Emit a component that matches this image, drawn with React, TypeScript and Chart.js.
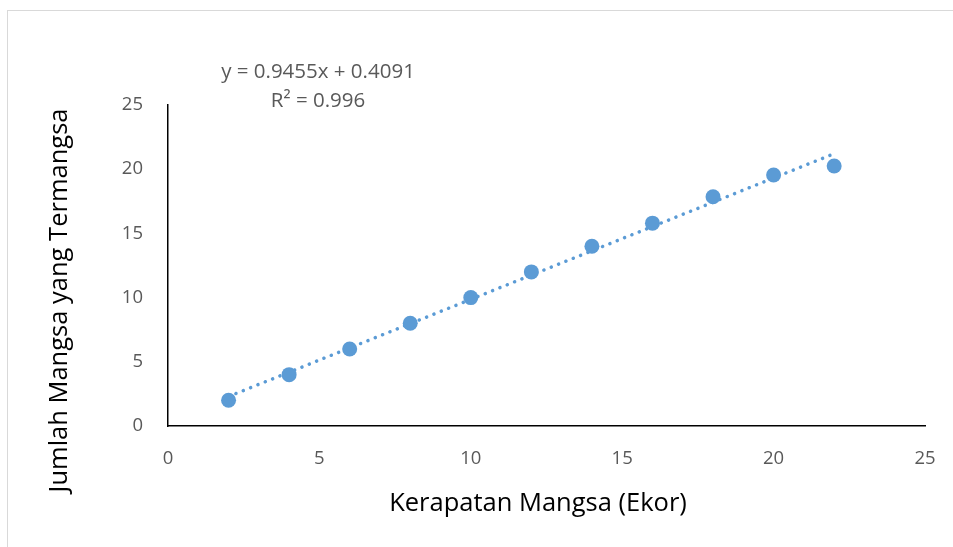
import React, { useEffect, useRef } from "react";
import { Chart, registerables } from "chart.js";

Chart.register(...registerables);

const xValues = [2, 4, 6, 8, 10, 12, 14, 16, 18, 20, 22];
const yValues = [2, 4, 6, 8, 10, 12, 14, 15.8, 17.85, 19.55, 20.25];
const trendSlope = 0.9455;
const trendIntercept = 0.4091;
const trendRange = [2, 22];
const equationLines = ["y = 0.9455x + 0.4091", "R² = 0.996"];
const xTitle = "Kerapatan Mangsa (Ekor)";
const yTitle = "Jumlah Mangsa yang Termangsa";

const FONT = "'Open Sans', 'Liberation Sans', sans-serif";
const BLUE = "#5b9bd5";

export default function App() {
  const ref = useRef<HTMLCanvasElement | null>(null);

  useEffect(() => {
    if (!ref.current) return;
    const textPlugin = {
      id: "texts",
      afterDraw(chart: any) {
        const ctx = chart.ctx;
        const a = chart.chartArea;
        ctx.save();
        ctx.font = `20.5px ${FONT}`;
        ctx.fillStyle = "#595959";
        ctx.textAlign = "center";
        ctx.textBaseline = "alphabetic";
        const ex = a.left + 150;
        ctx.fillText(equationLines[0], ex, a.top - 27);
        ctx.fillText(equationLines[1], ex, a.top + 2);
        ctx.fillStyle = "#000";
        ctx.font = `25.5px ${FONT}`;
        ctx.fillText(xTitle, 538, a.bottom + 85);
        ctx.translate(67, (a.top + a.bottom) / 2 + 35);
        ctx.rotate(-Math.PI / 2);
        ctx.fillText(yTitle, 0, 0);
        ctx.restore();
      },
    };
    const chart = new Chart(ref.current, {
      type: "scatter",
      data: {
        datasets: [
          {
            label: "data",
            data: xValues.map((x, i) => ({ x, y: yValues[i] })),
            backgroundColor: BLUE,
            borderColor: BLUE,
            pointRadius: 7.5,
            pointBorderWidth: 0,
            order: 0,
          },
          {
            label: "trend",
            type: "line",
            data: trendRange.map((x) => ({ x, y: trendSlope * x + trendIntercept })),
            borderColor: BLUE,
            borderWidth: 3.5,
            borderDash: [0.1, 7.8],
            borderCapStyle: "round",
            pointRadius: 0,
            fill: false,
            order: 1,
          } as any,
        ],
      },
      options: {
        animation: false,
        responsive: false,
        events: [],
        layout: { padding: { top: 105, right: 28, left: 0, bottom: 0 } },
        plugins: {
          legend: { display: false },
          tooltip: { enabled: false },
        },
        scales: {
          x: {
            type: "linear",
            min: 0,
            max: 25,
            afterFit: (s: any) => {
              s.height = 121;
              s.paddingLeft = 0;
              s.paddingRight = 0;
            },
            grid: { display: false, drawTicks: false },
            border: { display: true, color: "#000", width: 1.5 },
            ticks: {
              stepSize: 5,
              padding: 22,
              color: "#595959",
              font: { family: FONT, size: 18.5 },
            },
          },
          y: {
            type: "linear",
            min: 0,
            max: 25,
            afterFit: (s: any) => {
              s.width = 168;
              s.paddingTop = 0;
              s.paddingBottom = 0;
            },
            grid: { display: false, drawTicks: false },
            border: { display: true, color: "#000", width: 1.5 },
            ticks: {
              stepSize: 5,
              padding: 25,
              color: "#595959",
              font: { family: FONT, size: 18.5 },
            },
          },
        },
      },
      plugins: [textPlugin],
    });
    return () => chart.destroy();
  }, []);

  return (
    <div style={{ position: "absolute", left: 0, top: 0, width: 953, height: 547, overflow: "hidden", background: "#fff" }}>
      <div
        style={{
          position: "absolute",
          left: 7,
          top: 10,
          width: 980,
          height: 580,
          border: "1.5px solid #d9d9d9",
          boxSizing: "border-box",
        }}
      />
      <canvas ref={ref} width={953} height={547} style={{ position: "absolute", left: 0, top: 0, width: 953, height: 547 }} />
    </div>
  );
}
